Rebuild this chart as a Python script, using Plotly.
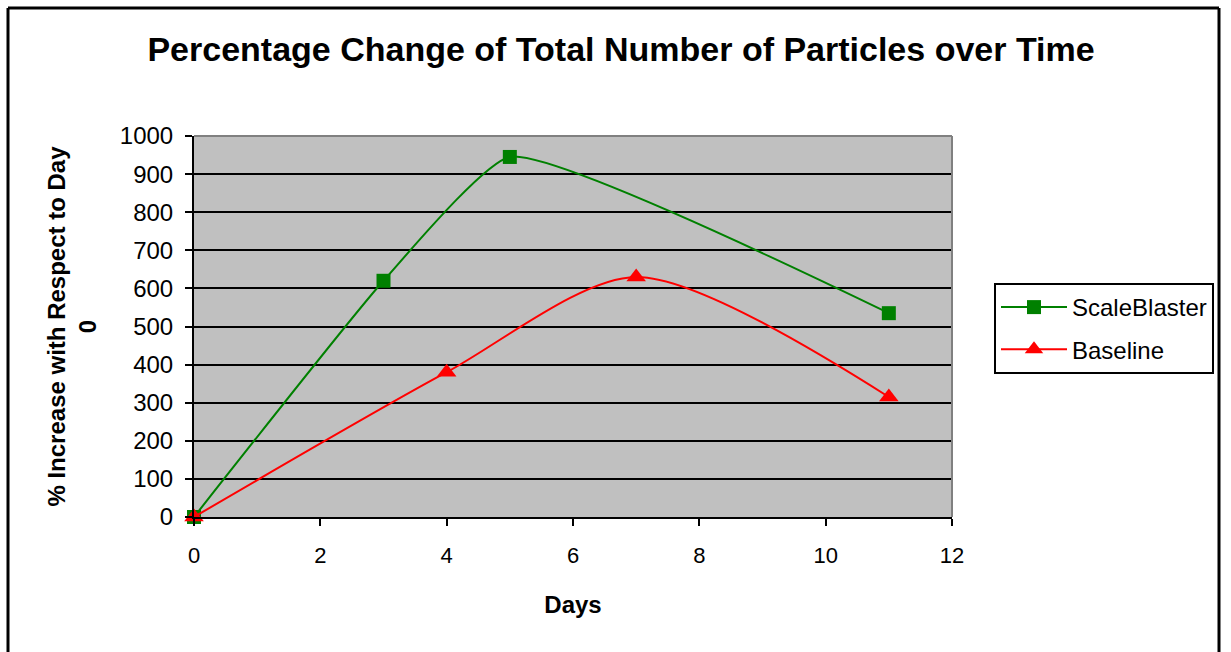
import plotly.graph_objects as go

days_sb = [0, 3, 5, 11]
scaleblaster = [0, 620, 945, 535]
days_bl = [0, 4, 7, 11]
baseline = [0, 380, 630, 315]
y_ticks = list(range(0, 1001, 100))
x_ticks = list(range(0, 13, 2))

L, R, T, B = 194, 1231 - 952, 136, 652 - 517
W, H = 1231, 652
pw, ph = W - L - R, H - T - B

def px(xp):
    return (xp - L) / pw

def py(yp):
    return (H - B - yp) / ph

fig = go.Figure()
fig.add_trace(go.Scatter(
    x=days_sb, y=scaleblaster, name="ScaleBlaster", mode="lines+markers",
    legendgroup="a",
    line=dict(color="#008000", width=2, shape="spline", smoothing=0.45),
    marker=dict(symbol="square", size=14, color="#008000"), cliponaxis=False))
fig.add_trace(go.Scatter(
    x=days_bl, y=baseline, name="Baseline", mode="lines+markers",
    legendgroup="b",
    line=dict(color="#FF0000", width=2, shape="spline", smoothing=0.8),
    marker=dict(symbol="triangle-up", size=17, color="#FF0000"), cliponaxis=False))

fig.update_layout(
    width=W, height=H,
    margin=dict(l=L, r=R, t=T, b=B, pad=0),
    paper_bgcolor="white", plot_bgcolor="#C0C0C0",
    font=dict(family="Arial, Liberation Sans", color="black"),
    title=dict(text="<b>Percentage Change of Total Number of Particles over Time</b>",
               x=0.5045, xanchor="center", y=1 - 49 / H, yanchor="middle",
               font=dict(size=34, color="black")),
    showlegend=True,
    legend=dict(x=px(994), y=py(283), xanchor="left", yanchor="top",
                bordercolor="black", borderwidth=2, bgcolor="white",
                font=dict(size=24), traceorder="grouped", tracegroupgap=8,
                itemwidth=66),
)
fig.update_xaxes(range=[0, 12], tickvals=x_ticks, ticks="outside", ticklen=7,
                 tickwidth=2, tickcolor="black", showline=True, linecolor="black",
                 linewidth=2, showgrid=False, zeroline=False, mirror=False,
                 tickfont=dict(size=22), ticklabelstandoff=11,
                 title=dict(text="<b>Days</b>", font=dict(size=24), standoff=29))
fig.update_yaxes(range=[0, 1000], tickvals=y_ticks, ticks="outside", ticklen=7,
                 tickwidth=2, tickcolor="black", showline=True, linecolor="black",
                 linewidth=2, showgrid=True, gridcolor="black", gridwidth=1.5,
                 zeroline=False, tickfont=dict(size=24), ticklabelstandoff=7,
                 title=dict(text="<b>% Increase with Respect to Day<br>0</b>",
                            font=dict(size=24), standoff=16))
# gray top and right plot border
fig.add_shape(type="line", xref="paper", yref="paper", x0=0, x1=1, y0=1, y1=1,
              line=dict(color="#808080", width=2))
fig.add_shape(type="line", xref="paper", yref="paper", x0=1, x1=1, y0=0, y1=1,
              line=dict(color="#808080", width=2))
# outer chart border (left, top, right)
for (x0, y0, x1, y1) in [(8, 8, 1219, 8), (8, 8, 8, 660), (1219, 8, 1219, 660)]:
    fig.add_shape(type="line", xref="paper", yref="paper",
                  x0=px(x0), x1=px(x1), y0=py(y0), y1=py(y1),
                  line=dict(color="black", width=3), layer="above")

fig.write_html(
    "out.html", config={"displayModeBar": False},
    post_script="document.body.style.margin='0';"
                "document.body.style.overflow='hidden';"
                "document.documentElement.style.overflow='hidden';")
